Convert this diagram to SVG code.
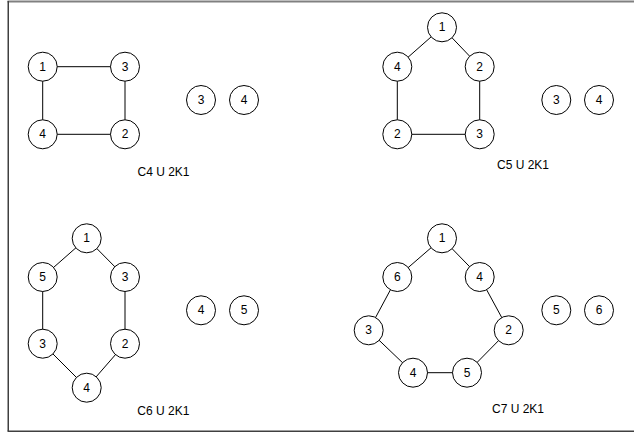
<svg xmlns="http://www.w3.org/2000/svg" width="634" height="432" viewBox="0 0 634 432">
<style>
.n circle{fill:#fff;stroke:#000;stroke-width:1}
text{font-family:"Liberation Sans",Arial,sans-serif;font-size:12px;fill:#000;text-anchor:middle;dominant-baseline:central}
.e line{stroke:#000;stroke-width:1}
</style>
<rect width="634" height="432" fill="#fff"/>
<line x1="7.5" y1="1.5" x2="634" y2="1.5" stroke="#808080" stroke-width="2"/>
<line x1="8.25" y1="1" x2="8.25" y2="431" stroke="#404040" stroke-width="1.5"/>
<line x1="7.5" y1="431.25" x2="634" y2="431.25" stroke="#404040" stroke-width="1.5"/>
<g class="e" id="connectors">
<line x1="42.7" y1="66.7" x2="125" y2="66.7"/>
<line x1="125" y1="66.7" x2="125" y2="134.3"/>
<line x1="125" y1="134.3" x2="42.7" y2="134.3"/>
<line x1="42.7" y1="134.3" x2="42.7" y2="66.7"/>
<line x1="442" y1="27.3" x2="479.7" y2="66.7"/>
<line x1="479.7" y1="66.7" x2="479.7" y2="134.3"/>
<line x1="479.7" y1="134.3" x2="397.3" y2="134.3"/>
<line x1="397.3" y1="134.3" x2="397.3" y2="66.7"/>
<line x1="397.3" y1="66.7" x2="442" y2="27.3"/>
<line x1="86.7" y1="238.3" x2="125" y2="277"/>
<line x1="125" y1="277" x2="125" y2="343.7"/>
<line x1="125" y1="343.7" x2="86.7" y2="387.7"/>
<line x1="86.7" y1="387.7" x2="42.7" y2="343.7"/>
<line x1="42.7" y1="343.7" x2="42.7" y2="277"/>
<line x1="42.7" y1="277" x2="86.7" y2="238.3"/>
<line x1="442" y1="238.3" x2="479.7" y2="277"/>
<line x1="479.7" y1="277" x2="508.7" y2="330.3"/>
<line x1="508.7" y1="330.3" x2="467" y2="372.7"/>
<line x1="467" y1="372.7" x2="413" y2="372.7"/>
<line x1="413" y1="372.7" x2="368.7" y2="330.3"/>
<line x1="368.7" y1="330.3" x2="397.3" y2="277"/>
<line x1="397.3" y1="277" x2="442" y2="238.3"/>
</g>
<g class="n" id="a1"><circle cx="42.7" cy="66.7" r="14.5"/><text x="42.7" y="66.7">1</text></g>
<g class="n" id="a3"><circle cx="125" cy="66.7" r="14.5"/><text x="125" y="66.7">3</text></g>
<g class="n" id="a4"><circle cx="42.7" cy="134.3" r="14.5"/><text x="42.7" y="134.3">4</text></g>
<g class="n" id="a2"><circle cx="125" cy="134.3" r="14.5"/><text x="125" y="134.3">2</text></g>
<g class="n" id="ai3"><circle cx="201" cy="100" r="14.5"/><text x="201" y="100">3</text></g>
<g class="n" id="ai4"><circle cx="244" cy="100" r="14.5"/><text x="244" y="100">4</text></g>
<text x="163.5" y="171.7">C4 U 2K1</text>
<g class="n" id="b1"><circle cx="442" cy="27.3" r="14.5"/><text x="442" y="27.3">1</text></g>
<g class="n" id="b4"><circle cx="397.3" cy="66.7" r="14.5"/><text x="397.3" y="66.7">4</text></g>
<g class="n" id="b2"><circle cx="479.7" cy="66.7" r="14.5"/><text x="479.7" y="66.7">2</text></g>
<g class="n" id="b2b"><circle cx="397.3" cy="134.3" r="14.5"/><text x="397.3" y="134.3">2</text></g>
<g class="n" id="b3"><circle cx="479.7" cy="134.3" r="14.5"/><text x="479.7" y="134.3">3</text></g>
<g class="n" id="bi3"><circle cx="556.3" cy="100" r="14.5"/><text x="556.3" y="100">3</text></g>
<g class="n" id="bi4"><circle cx="599" cy="100" r="14.5"/><text x="599" y="100">4</text></g>
<text x="523" y="165">C5 U 2K1</text>
<g class="n" id="c1"><circle cx="86.7" cy="238.3" r="14.5"/><text x="86.7" y="238.3">1</text></g>
<g class="n" id="c5"><circle cx="42.7" cy="277" r="14.5"/><text x="42.7" y="277">5</text></g>
<g class="n" id="c3"><circle cx="125" cy="277" r="14.5"/><text x="125" y="277">3</text></g>
<g class="n" id="c3b"><circle cx="42.7" cy="343.7" r="14.5"/><text x="42.7" y="343.7">3</text></g>
<g class="n" id="c2"><circle cx="125" cy="343.7" r="14.5"/><text x="125" y="343.7">2</text></g>
<g class="n" id="c4"><circle cx="86.7" cy="387.7" r="14.5"/><text x="86.7" y="387.7">4</text></g>
<g class="n" id="ci4"><circle cx="201" cy="310.3" r="14.5"/><text x="201" y="310.3">4</text></g>
<g class="n" id="ci5"><circle cx="244" cy="310.3" r="14.5"/><text x="244" y="310.3">5</text></g>
<text x="163.3" y="411">C6 U 2K1</text>
<g class="n" id="d1"><circle cx="442" cy="238.3" r="14.5"/><text x="442" y="238.3">1</text></g>
<g class="n" id="d6"><circle cx="397.3" cy="277" r="14.5"/><text x="397.3" y="277">6</text></g>
<g class="n" id="d4"><circle cx="479.7" cy="277" r="14.5"/><text x="479.7" y="277">4</text></g>
<g class="n" id="d3"><circle cx="368.7" cy="330.3" r="14.5"/><text x="368.7" y="330.3">3</text></g>
<g class="n" id="d2"><circle cx="508.7" cy="330.3" r="14.5"/><text x="508.7" y="330.3">2</text></g>
<g class="n" id="d4b"><circle cx="413" cy="372.7" r="14.5"/><text x="413" y="372.7">4</text></g>
<g class="n" id="d5"><circle cx="467" cy="372.7" r="14.5"/><text x="467" y="372.7">5</text></g>
<g class="n" id="di5"><circle cx="556.3" cy="310.3" r="14.5"/><text x="556.3" y="310.3">5</text></g>
<g class="n" id="di6"><circle cx="599" cy="310.3" r="14.5"/><text x="599" y="310.3">6</text></g>
<text x="518" y="409.3">C7 U 2K1</text>
</svg>
